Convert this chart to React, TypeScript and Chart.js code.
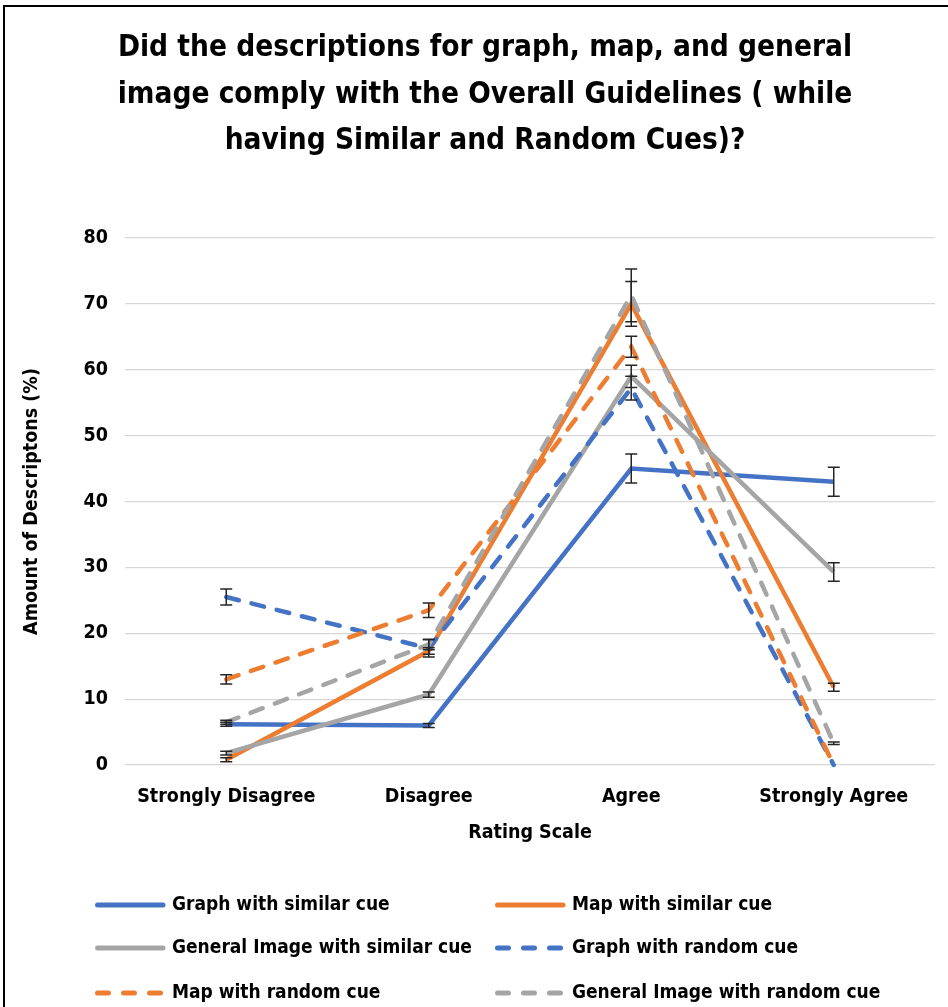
import React, { useEffect, useRef } from "react";
import { Chart, registerables } from "chart.js";

Chart.register(...registerables);

const FONT = "'Liberation Sans Narrow', 'DejaVu Sans Condensed', 'Liberation Sans', sans-serif";

const titleLines = [
  "Did the descriptions for graph, map, and general",
  "image comply with the Overall Guidelines ( while",
  "having Similar and Random Cues)?",
];
const categories = ["Strongly Disagree", "Disagree", "Agree", "Strongly Agree"];
const xTitle = "Rating Scale";
const yTitle = "Amount of Descriptons (%)";

const seriesLabels = [
  "Graph with similar cue",
  "Map with similar cue",
  "General Image with similar cue",
  "Graph with random cue",
  "Map with random cue",
  "General Image with random cue",
];

const graphSimilar = [6.2, 6.0, 45.0, 43.0];
const mapSimilar = [0.8, 17.3, 70.0, 11.8];
const generalSimilar = [1.8, 10.7, 59.0, 29.3];
const graphRandom = [25.5, 17.7, 57.2, 0];
const mapRandom = [13.0, 23.5, 63.5, 0];
const generalRandom = [6.5, 18.3, 71.3, 3.3];

const graphSimilarErr = [0.3, 0.3, 2.2, 2.2];
const mapSimilarErr = [0.3, 0.5, 3.4, 0.6];
const generalSimilarErr = [0.3, 0.4, 1.7, 1.4];
const graphRandomErr = [1.2, 1.3, 1.8, 0];
const mapRandomErr = [0.7, 1.1, 1.6, 0];
const generalRandomErr = [0.3, 0.8, 4.0, 0.2];

const BLUE = "#4472C4";
const ORANGE = "#ED7D31";
const GRAY = "#A5A5A5";

const values = [graphSimilar, mapSimilar, generalSimilar, graphRandom, mapRandom, generalRandom];
const errors = [graphSimilarErr, mapSimilarErr, generalSimilarErr, graphRandomErr, mapRandomErr, generalRandomErr];
const colors = [BLUE, ORANGE, GRAY, BLUE, ORANGE, GRAY];
const dashed = [false, false, false, true, true, true];

const customPlugin = {
  id: "custom",
  afterDatasetsDraw(chart: any) {
    const ctx = chart.ctx;
    const y = chart.scales.y;
    ctx.save();
    ctx.strokeStyle = "#262626";
    ctx.lineWidth = 1.5;
    chart.data.datasets.forEach((ds: any, i: number) => {
      const meta = chart.getDatasetMeta(i);
      const err: number[] = ds.errors;
      meta.data.forEach((pt: any, j: number) => {
        const e = err[j];
        if (!e) return;
        const v = ds.data[j];
        const x = pt.x;
        const yt = y.getPixelForValue(v + e);
        const yb = y.getPixelForValue(v - e);
        ctx.beginPath();
        ctx.moveTo(x, yt);
        ctx.lineTo(x, yb);
        ctx.moveTo(x - 6, yt);
        ctx.lineTo(x + 6, yt);
        ctx.moveTo(x - 6, yb);
        ctx.lineTo(x + 6, yb);
        ctx.stroke();
      });
    });
    ctx.restore();
  },
  afterDraw(chart: any) {
    const ctx = chart.ctx;
    ctx.save();
    // title
    ctx.fillStyle = "#000";
    ctx.textAlign = "center";
    ctx.textBaseline = "middle";
    ctx.font = `bold 29.5px ${FONT}`;
    const tY = [48, 95, 141];
    titleLines.forEach((t, i) => ctx.fillText(t, 485, tY[i]));
    // legend
    const cols = [95, 495];
    const rows = [905, 948, 993];
    ctx.font = `bold 19px ${FONT}`;
    ctx.textAlign = "left";
    chart.data.datasets.forEach((ds: any, i: number) => {
      const cx = cols[i % 2];
      const cy = rows[Math.floor(i / 2)];
      ctx.strokeStyle = ds.borderColor;
      ctx.lineWidth = 5;
      ctx.lineCap = "round";
      ctx.setLineDash(ds.borderDash && ds.borderDash.length ? [11, 15] : []);
      ctx.beginPath();
      ctx.moveTo(cx + 2.5, cy);
      ctx.lineTo(cx + 68, cy);
      ctx.stroke();
      ctx.setLineDash([]);
      ctx.fillStyle = "#000";
      ctx.fillText(ds.label, cx + 77, cy);
    });
    ctx.restore();
  },
};

export default function App() {
  const ref = useRef<HTMLCanvasElement>(null);
  useEffect(() => {
    document.body.style.margin = "0";
    const chart = new Chart(ref.current as HTMLCanvasElement, {
      type: "line",
      data: {
        labels: categories,
        datasets: values.map((v, i) => ({
          label: seriesLabels[i],
          data: v,
          errors: errors[i],
          borderColor: colors[i],
          backgroundColor: colors[i],
          borderWidth: 4.5,
          borderDash: dashed[i] ? [13, 13] : [],
          borderCapStyle: dashed[i] ? "round" : "butt",
          pointRadius: 0,
          pointHoverRadius: 0,
          tension: 0,
          clip: false,
          order: 5 - i,
        })) as any,
      },
      options: {
        responsive: false,
        animation: false,
        devicePixelRatio: 1,
        layout: { padding: { left: 0, right: 13, top: 238, bottom: 162 } },
        plugins: {
          legend: { display: false },
          title: { display: false },
          tooltip: { enabled: false },
        },
        scales: {
          x: {
            type: "category",
            offset: true,
            grid: { display: false, drawTicks: false },
            border: { display: false },
            ticks: { color: "#000", font: { family: FONT, size: 19.5, weight: "bold" }, padding: 20, maxRotation: 0 },
            title: { display: true, text: xTitle, color: "#000", font: { family: FONT, size: 19.5, weight: "bold" }, padding: { top: 0, bottom: 0 } },
            afterFit: (s: any) => { s.height = 80; },
          },
          y: {
            min: 0,
            max: 80,
            ticks: { stepSize: 10, color: "#000", font: { family: FONT, size: 19.5, weight: "bold" }, padding: 17 },
            grid: { color: "#d6d6d6", lineWidth: 1.2, drawTicks: false },
            border: { display: false },
            title: { display: true, text: yTitle, color: "#000", font: { family: FONT, size: 19.5, weight: "bold" }, padding: { top: 20, bottom: 0 } },
            afterFit: (s: any) => { s.width = 125; },
          },
        },
      } as any,
      plugins: [customPlugin],
    });
    return () => chart.destroy();
  }, []);
  return (
    <div style={{ position: "fixed", left: 0, top: 0, width: 948, height: 1007, background: "#fff", overflow: "hidden" }}>
      <canvas ref={ref} width={948} height={1007} style={{ width: 948, height: 1007, display: "block" }} />
      <div style={{ position: "absolute", left: 3, top: 5, width: 945, height: 1002, borderLeft: "2px solid #000", borderTop: "2px solid #000", pointerEvents: "none" }} />
    </div>
  );
}
